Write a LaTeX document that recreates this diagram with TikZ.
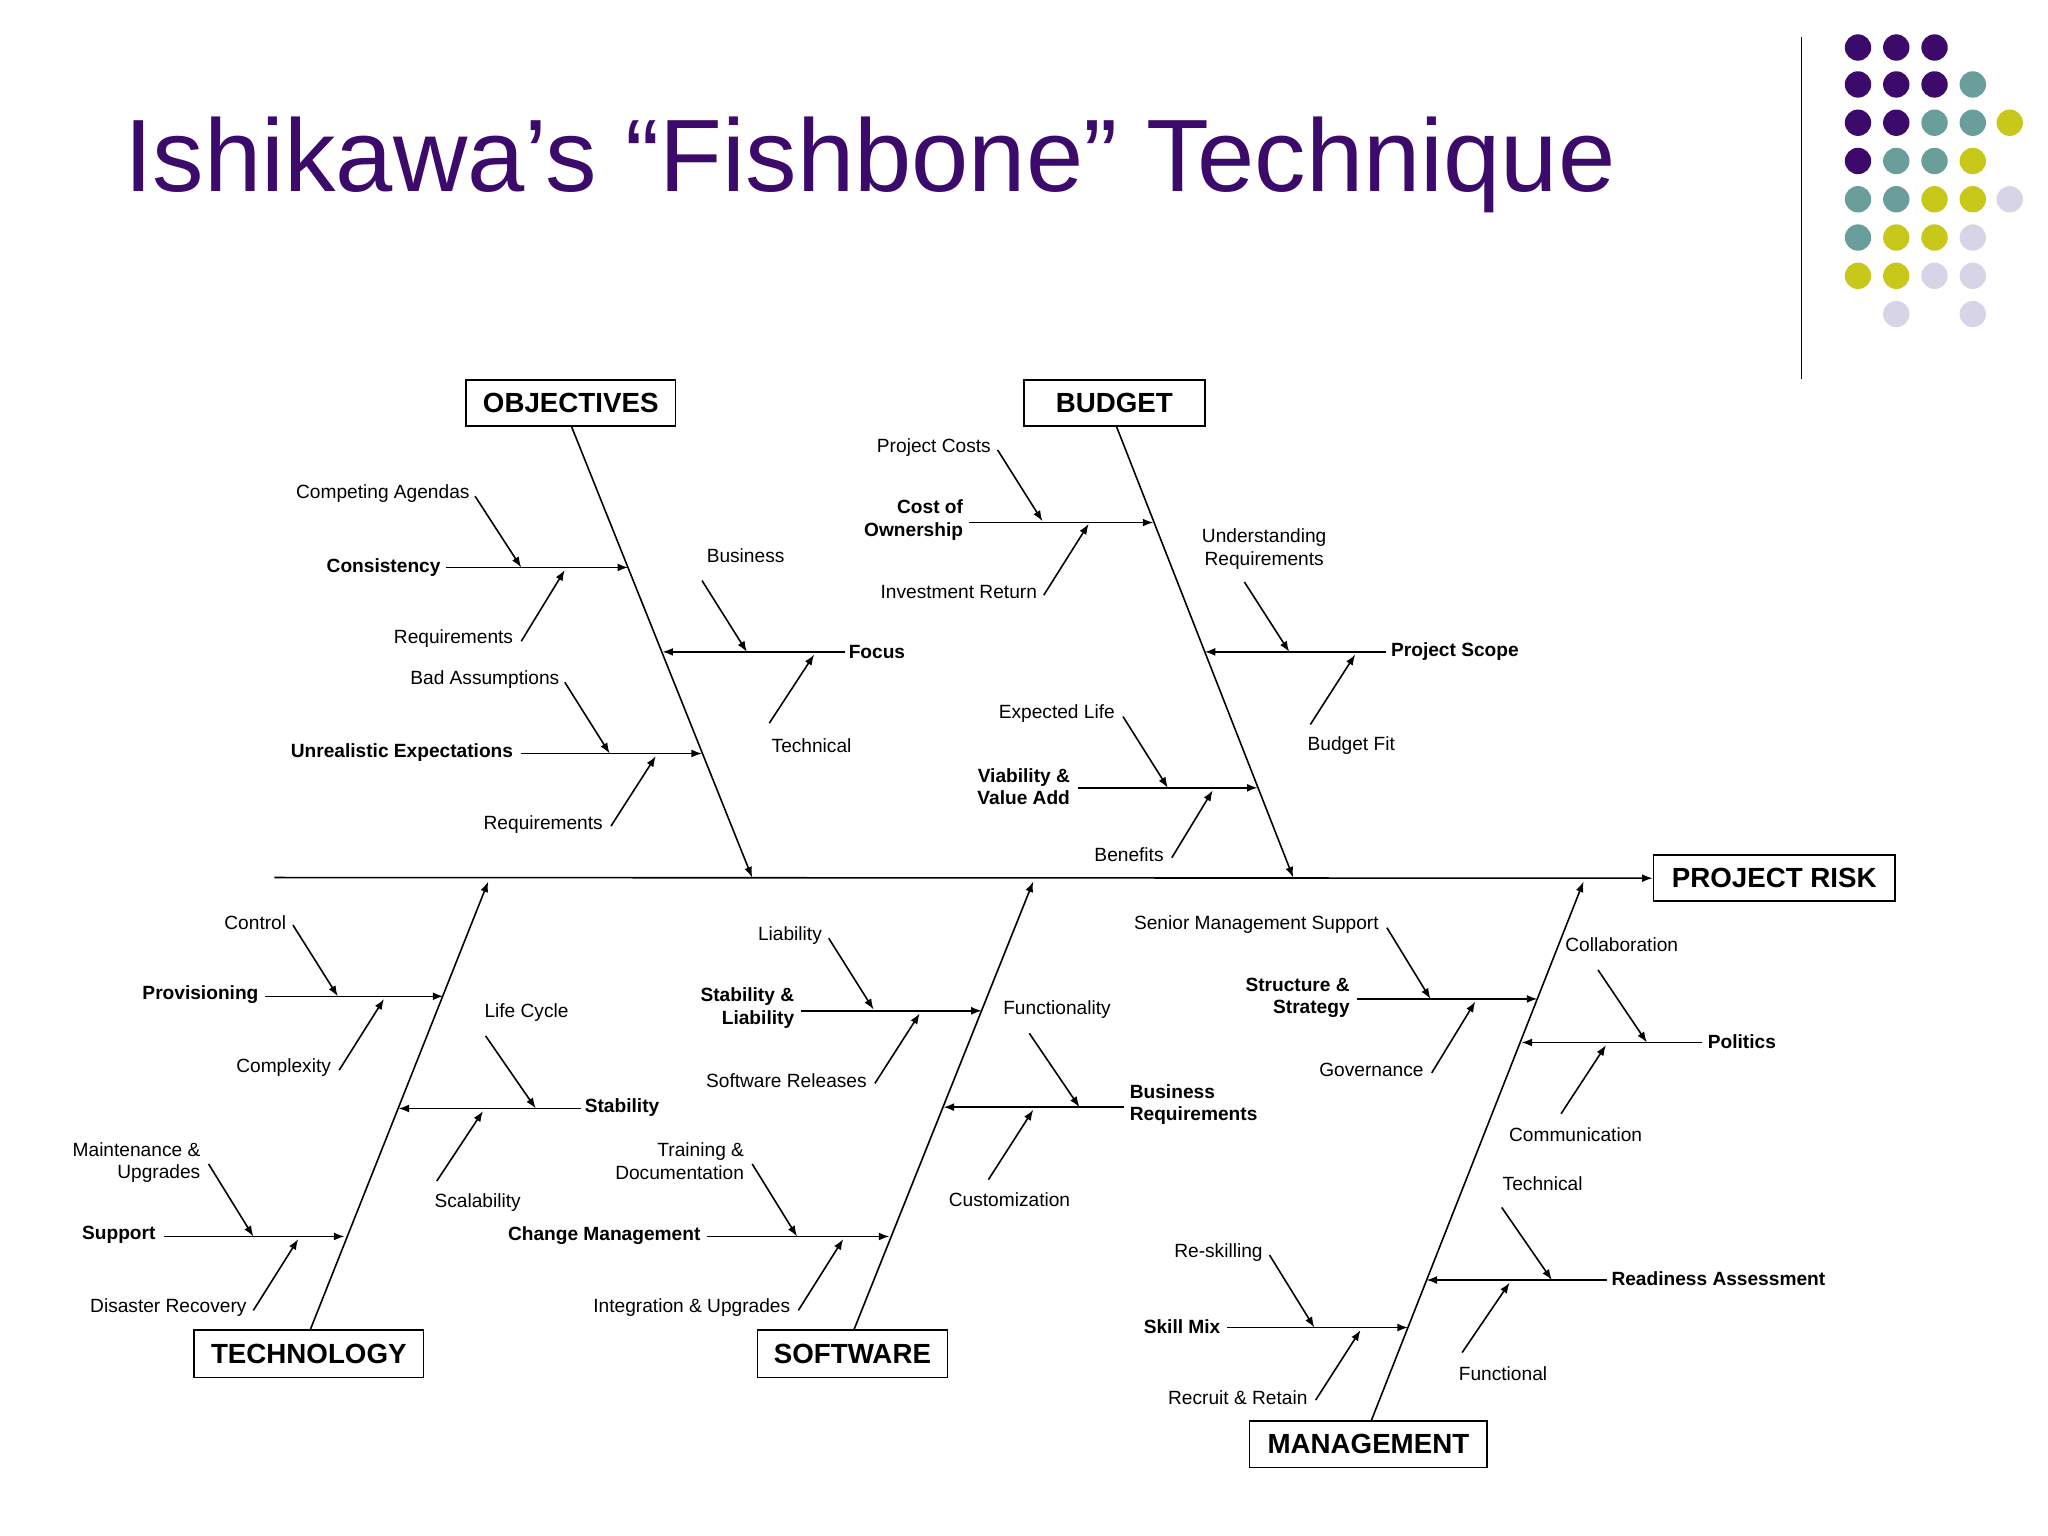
\documentclass[tikz,border=0pt]{standalone}
\usepackage{fontspec}
\setmainfont{Liberation Sans}
\usetikzlibrary{arrows.meta}
\definecolor{tpurple}{HTML}{3B0A6B}
\definecolor{tteal}{HTML}{6A9E9A}
\definecolor{tyellow}{HTML}{C8C81A}
\definecolor{tlav}{HTML}{D8D4E8}
\tikzset{
 arr/.style={line width=1.2pt,-{Latex[length=8pt,width=6pt]}},
 lab/.style={font=\fontsize{14.5}{17}\selectfont,inner sep=1pt,align=center},
 blab/.style={font=\fontsize{14.5}{17}\selectfont\bfseries,inner sep=1pt,align=center},
 box/.style={draw,line width=1.2pt,font=\fontsize{21}{24}\selectfont\bfseries,inner sep=0pt},
 dot/.style={circle,inner sep=0pt,minimum size=20pt}
}
\newcommand\conn[3]{\coordinate (s#1) at (#2); \coordinate (e#1) at (#3); \draw[arr] (s#1) -- (e#1);}
\begin{document}
\begin{tikzpicture}[x=1pt,y=-1pt]
\useasboundingbox (0,0) rectangle (1552,1164);
\node[anchor=west,text=tpurple,font=\fontsize{78}{82}\selectfont,inner sep=0pt] (title) at (94,125) {Ishikawa’s “Fishbone” Technique};
\coordinate (v1) at (1365,28); \coordinate (v2) at (1365,287);
\draw[line width=1pt] (v1) -- (v2);
% dots
\foreach \x/\y/\c in {1408/36/tpurple,1437/36/tpurple,1466/36/tpurple,
 1408/64/tpurple,1437/64/tpurple,1466/64/tpurple,1495/64/tteal,
 1408/93/tpurple,1437/93/tpurple,1466/93/tteal,1495/93/tteal,1523/93/tyellow,
 1408/122/tpurple,1437/122/tteal,1466/122/tteal,1495/122/tyellow,
 1408/151/tteal,1437/151/tteal,1466/151/tyellow,1495/151/tyellow,1523/151/tlav,
 1408/180/tteal,1437/180/tyellow,1466/180/tyellow,1495/180/tlav,
 1408/209/tyellow,1437/209/tyellow,1466/209/tlav,1495/209/tlav,
 1437/238/tlav,1495/238/tlav}
 {\node[dot,fill=\c] at (\x,\y) {};}
% boxes
\node[box,minimum width=159pt,minimum height=35pt] (obj) at (432.5,305.5) {OBJECTIVES};
\node[box,minimum width=137pt,minimum height=35pt] (bud) at (844.5,305.5) {BUDGET};
\node[box,minimum width=183pt,minimum height=35pt] (risk) at (1344.5,665.5) {PROJECT RISK};
\node[box,minimum width=174pt,minimum height=36pt] (tech) at (234,1026) {TECHNOLOGY};
\node[box,minimum width=144pt,minimum height=36pt] (soft) at (646,1026) {SOFTWARE};
\node[box,minimum width=180pt,minimum height=35pt] (man) at (1037,1094.5) {MANAGEMENT};
% spine
\coordinate (sp) at (208,665);
\draw[arr] (sp) -- (risk.west);
% main bones
\coordinate (o2) at (570,665); \draw[arr] (433,323) coordinate (o1) -- (o2);
\coordinate (b2) at (980,665); \draw[arr] (846,323) coordinate (b1) -- (b2);
\coordinate (t2) at (370,668); \draw[arr] (235,1008) coordinate (t1) -- (t2);
\coordinate (w2) at (783,668); \draw[arr] (647,1008) coordinate (w1) -- (w2);
\coordinate (m2) at (1200,668); \draw[arr] (1039,1077) coordinate (m1) -- (m2);
% ===== OBJECTIVES
\node[blab,anchor=east] (cons) at (335,430) {Consistency};
\conn{cons}{338,430}{476,430}
\node[lab,anchor=east] (ca) at (357,374) {Competing Agendas};
\conn{ca}{360,376}{395,430}
\node[lab,anchor=east] (rq1) at (390,484) {Requirements};
\conn{rq1}{395,486}{428,432}
\node[blab,anchor=west] (foc) at (642,494) {Focus};
\conn{foc}{640,494}{502,494}
\node[lab] (bus) at (565,421) {Business};
\conn{bus}{532,440}{566,494}
\node[lab] (tec1) at (615,565) {Technical};
\conn{tec1}{583,548}{617,496}
\node[blab,anchor=east] (ue) at (390,570) {Unrealistic Expectations};
\conn{ue}{395,571}{532,571}
\node[lab,anchor=east] (ba) at (425,515) {Bad Assumptions};
\conn{ba}{428,517}{462,571}
\node[lab,anchor=east] (rq2) at (458,625) {Requirements};
\conn{rq2}{463,626}{497,573}
% ===== BUDGET
\node[blab,anchor=east,align=right] (coo) at (731,394) {Cost of\\Ownership};
\conn{coo}{734,396}{874,396}
\node[lab,anchor=east] (pc) at (752,339) {Project Costs};
\conn{pc}{756,341}{790,395}
\node[lab,anchor=east] (ir) at (787,449) {Investment Return};
\conn{ir}{791,451}{825,397}
\node[blab,anchor=west] (ps) at (1053,494) {Project Scope};
\conn{ps}{1050,494}{913,494}
\node[lab] (ur) at (958,416) {Understanding\\Requirements};
\conn{ur}{943,441}{977,494}
\node[lab] (bf) at (1024,565) {Budget Fit};
\conn{bf}{993,549}{1027,496}
\node[blab,anchor=east,align=right] (via) at (812,596) {Viability \&\\Value Add};
\conn{via}{817,597}{953,597}
\node[lab,anchor=east] (el) at (846,541) {Expected Life};
\conn{el}{851,543}{885,597}
\node[lab,anchor=east] (ben) at (883,648) {Benefits};
\conn{ben}{888,650}{919,599}
% ===== TECHNOLOGY
\node[blab,anchor=east] (prov) at (197,754) {Provisioning};
\conn{prov}{201,755}{336,755}
\node[lab,anchor=east] (ctl) at (218,699) {Control};
\conn{ctl}{222,701}{256,755}
\node[lab,anchor=east] (cpx) at (252,809) {Complexity};
\conn{cpx}{257,811}{291,757}
\node[blab,anchor=west] (stab) at (442,839) {Stability};
\conn{stab}{440,840}{302,840}
\node[lab] (lc) at (399,767) {Life Cycle};
\conn{lc}{368,785}{406,840}
\node[lab] (sc) at (362,911) {Scalability};
\conn{sc}{331,895}{366,842}
\node[blab,anchor=east] (sup) at (119,936) {Support};
\conn{sup}{124,937}{261,937}
\node[lab,anchor=east,align=right] (mu) at (153,881) {Maintenance \&\\Upgrades};
\conn{mu}{158,882}{192,937}
\node[lab,anchor=east] (dr) at (188,991) {Disaster Recovery};
\conn{dr}{192,993}{226,939}
% ===== SOFTWARE
\node[blab,anchor=east,align=right] (sl) at (603,764) {Stability \&\\Liability};
\conn{sl}{607,766}{744,766}
\node[lab,anchor=east] (lia) at (624,709) {Liability};
\conn{lia}{628,711}{662,765}
\node[lab,anchor=east] (sr) at (658,819) {Software Releases};
\conn{sr}{663,821}{697,768}
\node[blab,anchor=west,align=left] (br) at (855,837) {Business\\Requirements};
\conn{br}{852,839}{715,839}
\node[lab] (fun) at (801,765) {Functionality};
\conn{fun}{780,783}{818,839}
\node[lab] (cus) at (765,909) {Customization};
\conn{cus}{749,894}{783,841}
\node[blab,anchor=east] (cm) at (532,936) {Change Management};
\conn{cm}{536,937}{674,937}
\node[lab,anchor=east,align=right] (td) at (565,880) {Training \&\\Documentation};
\conn{td}{570,882}{604,937}
\node[lab,anchor=east] (iu) at (600,991) {Integration \& Upgrades};
\conn{iu}{605,993}{639,939}
% ===== MANAGEMENT
\node[blab,anchor=east,align=right] (ss) at (1024,756) {Structure \&\\Strategy};
\conn{ss}{1028,757}{1165,757}
\node[lab,anchor=east] (sms) at (1046,701) {Senior Management Support};
\conn{sms}{1051,703}{1084,757}
\node[lab,anchor=east] (gov) at (1080,811) {Governance};
\conn{gov}{1085,813}{1118,759}
\node[blab,anchor=west] (pol) at (1293,789) {Politics};
\conn{pol}{1290,790}{1153,790}
\node[lab,anchor=west] (col) at (1185,716) {Collaboration};
\conn{col}{1211,735}{1248,790}
\node[lab] (com) at (1194,860) {Communication};
\conn{com}{1183,844}{1217,792}
\node[blab,anchor=west] (ra) at (1220,969) {Readiness Assessment};
\conn{ra}{1218,970}{1081,970}
\node[lab] (tec2) at (1169,897) {Technical};
\conn{tec2}{1138,915}{1176,970}
\node[lab] (fnl) at (1139,1041) {Functional};
\conn{fnl}{1108,1025}{1144,972}
\node[blab,anchor=east] (sm) at (926,1005) {Skill Mix};
\conn{sm}{930,1006}{1067,1006}
\node[lab,anchor=east] (rs) at (958,949) {Re-skilling};
\conn{rs}{962,951}{996,1006}
\node[lab,anchor=east] (rr) at (992,1059) {Recruit \& Retain};
\conn{rr}{997,1061}{1031,1008}
\end{tikzpicture}
\end{document}
